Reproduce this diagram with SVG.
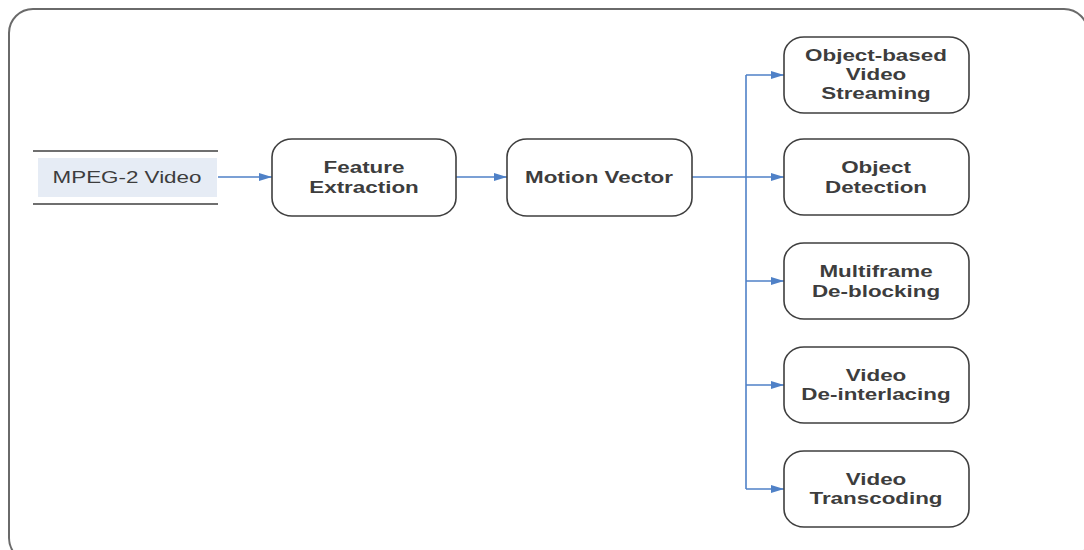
<svg xmlns="http://www.w3.org/2000/svg" width="1084" height="550" viewBox="0 0 1084 550">
  <style>
    .frame { fill: #ffffff; stroke: #6a6a6a; stroke-width: 2; }
    .box { fill: #ffffff; stroke: #3f3f3f; stroke-width: 1.6; }
    .store-line { stroke: #3f3f3f; stroke-width: 1.6; }
    .store-fill { fill: #e6ecf5; }
    .lbl { font-family: "Liberation Sans", Arial, sans-serif; font-size: 16px; font-weight: bold; fill: #3d3d3d; text-anchor: middle; }
    .lbl-plain { font-family: "Liberation Sans", Arial, sans-serif; font-size: 16px; fill: #3d3d3d; text-anchor: middle; }
    .conn { fill: none; stroke: #4f81c7; stroke-width: 1.6; }
  </style>
  <defs>
    <marker id="arrow" markerWidth="13" markerHeight="8" refX="13" refY="4" orient="auto" markerUnits="userSpaceOnUse">
      <path d="M0,0 L13,4 L0,8 Z" fill="#4f81c7"/>
    </marker>
  </defs>

  <!-- outer frame -->
  <rect class="frame" x="9" y="9" width="1079" height="553" rx="24" ry="24"/>

  <!-- connectors -->
  <g id="connectors">
    <line class="conn" x1="218" y1="177" x2="272" y2="177" marker-end="url(#arrow)"/>
    <line class="conn" x1="456" y1="177" x2="507" y2="177" marker-end="url(#arrow)"/>
    <line class="conn" x1="692" y1="177" x2="784" y2="177" marker-end="url(#arrow)"/>
    <line class="conn" x1="746" y1="75" x2="746" y2="489"/>
    <line class="conn" x1="746" y1="75" x2="784" y2="75" marker-end="url(#arrow)"/>
    <line class="conn" x1="746" y1="281" x2="784" y2="281" marker-end="url(#arrow)"/>
    <line class="conn" x1="746" y1="385" x2="784" y2="385" marker-end="url(#arrow)"/>
    <line class="conn" x1="746" y1="489" x2="784" y2="489" marker-end="url(#arrow)"/>
  </g>

  <!-- data store: input video -->
  <g id="mpeg2-video">
    <rect class="store-fill" x="38" y="158" width="179" height="39"/>
    <line class="store-line" x1="33" y1="151" x2="218" y2="151"/>
    <line class="store-line" x1="33" y1="204" x2="218" y2="204"/>
    <g transform="translate(127,183) scale(1.4,1)"><text class="lbl-plain" x="0" y="0">MPEG-2 Video</text></g>
  </g>

  <g id="feature-extraction">
    <rect class="box" x="272" y="139" width="184" height="77" rx="20" ry="18"/>
    <g transform="translate(364,173) scale(1.4,1)">
      <text class="lbl" x="0" y="0">Feature</text>
      <text class="lbl" x="0" y="20">Extraction</text>
    </g>
  </g>

  <g id="motion-vector">
    <rect class="box" x="507" y="139" width="185" height="77" rx="20" ry="18"/>
    <g transform="translate(599,183) scale(1.4,1)"><text class="lbl" x="0" y="0">Motion Vector</text></g>
  </g>

  <g id="object-streaming">
    <rect class="box" x="784" y="37" width="185" height="76" rx="20" ry="18"/>
    <g transform="translate(876,61) scale(1.4,1)">
      <text class="lbl" x="0" y="0">Object-based</text>
      <text class="lbl" x="0" y="19">Video</text>
      <text class="lbl" x="0" y="38">Streaming</text>
    </g>
  </g>

  <g id="object-detection">
    <rect class="box" x="784" y="139" width="185" height="76" rx="20" ry="18"/>
    <g transform="translate(876,173) scale(1.4,1)">
      <text class="lbl" x="0" y="0">Object</text>
      <text class="lbl" x="0" y="20">Detection</text>
    </g>
  </g>

  <g id="multiframe-deblocking">
    <rect class="box" x="784" y="243" width="185" height="76" rx="20" ry="18"/>
    <g transform="translate(876,277) scale(1.4,1)">
      <text class="lbl" x="0" y="0">Multiframe</text>
      <text class="lbl" x="0" y="20">De-blocking</text>
    </g>
  </g>

  <g id="video-deinterlacing">
    <rect class="box" x="784" y="347" width="185" height="76" rx="20" ry="18"/>
    <g transform="translate(876,381) scale(1.4,1)">
      <text class="lbl" x="0" y="0">Video</text>
      <text class="lbl" x="0" y="19">De-interlacing</text>
    </g>
  </g>

  <g id="video-transcoding">
    <rect class="box" x="784" y="451" width="185" height="76" rx="20" ry="18"/>
    <g transform="translate(876,485) scale(1.4,1)">
      <text class="lbl" x="0" y="0">Video</text>
      <text class="lbl" x="0" y="19">Transcoding</text>
    </g>
  </g>
</svg>
